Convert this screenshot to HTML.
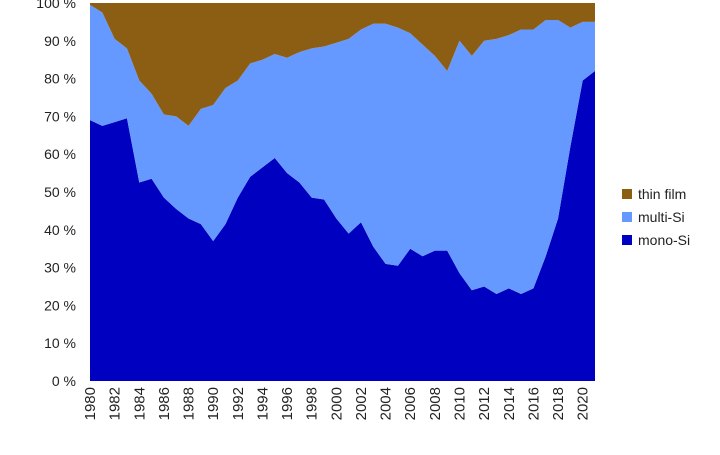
<!DOCTYPE html>
<html><head><meta charset="utf-8"><style>
body{margin:0;background:#fff;width:720px;height:450px;overflow:hidden}
text{font-family:"Liberation Sans",sans-serif;font-size:14px;fill:#222}
</style></head><body>
<svg id="c" width="720" height="450"></svg>
<script>
const years=[1980,1981,1982,1983,1984,1985,1986,1987,1988,1989,1990,1991,1992,1993,1994,1995,1996,1997,1998,1999,2000,2001,2002,2003,2004,2005,2006,2007,2008,2009,2010,2011,2012,2013,2014,2015,2016,2017,2018,2019,2020,2021];
const monoSi=[69,67.5,68.5,69.5,52.5,53.5,48.5,45.5,43,41.5,37,41.5,48.5,54,56.5,59,55,52.5,48.5,48,43,39,42,35.5,31,30.5,35,33,34.5,34.5,28.5,24,25,23,24.5,23,24.5,33,43,62,79.5,82];
const multiSi=[30.5,30,22,18.5,27,22.5,22,24.5,24.5,30.5,36,36,31,30,28.5,27.5,30.5,34.5,39.5,40.5,46.5,51.5,51,59,63.5,63,57,56,51.5,47.5,61.5,62,65,67.5,67,70,68.5,62.5,52.5,31.5,15.5,13];
const thinFilm=[0.5,2.5,9.5,12,20.5,24,29.5,30,32.5,28,27,22.5,20.5,16,15,13.5,14.5,13,12,11.5,10.5,9.5,7,5.5,5.5,6.5,8,11,14,18,10,14,10,9.5,8.5,7,7,4.5,4.5,6.5,5,5];
const yTicks=[0,10,20,30,40,50,60,70,80,90,100];
const xTicks=[1980,1982,1984,1986,1988,1990,1992,1994,1996,1998,2000,2002,2004,2006,2008,2010,2012,2014,2016,2018,2020];
const L=90,R=595,T=3,B=381;
const x=y=>L+(y-years[0])/(years[years.length-1]-years[0])*(R-L);
const yv=v=>B-v/100*(B-T);
const svg=document.getElementById('c');const NS='http://www.w3.org/2000/svg';
function mk(t,a){const e=document.createElementNS(NS,t);for(const k in a)e.setAttribute(k,a[k]);svg.appendChild(e);return e;}
const series=[[monoSi,'#0000c0','mono-Si'],[multiSi,'#6699ff','multi-Si'],[thinFilm,'#8b5e14','thin film']];
let base=years.map(()=>0);
series.forEach(([d,col,nm])=>{
 const top=base.map((b,i)=>b+d[i]);
 let p=years.map((yr,i)=>(i?'L':'M')+x(yr)+','+yv(top[i])).join('');
 for(let i=years.length-1;i>=0;i--)p+='L'+x(years[i])+','+yv(base[i]);
 const e=mk('path',{d:p+'Z',fill:col});
 
 
 base=top;
});
yTicks.forEach(v=>{const t=mk('text',{x:76,y:yv(v)+5,'text-anchor':'end'});t.textContent=v+' %';
 
 });
xTicks.forEach(v=>{const t=mk('text',{transform:`translate(${x(v)+5},387) rotate(-90)`,'text-anchor':'end','style':'font-size:15px'});t.textContent=v;
 
 });
[['thin film','#8b5e14',199],['multi-Si','#6699ff',222],['mono-Si','#0000c0',245]].forEach(([n,c,yy])=>{
 const r=mk('rect',{x:622,y:yy-10,width:10,height:10,fill:c});
 
 
 const t=mk('text',{x:638,y:yy});t.textContent=n;
 
 
});
</script>
</body></html>
